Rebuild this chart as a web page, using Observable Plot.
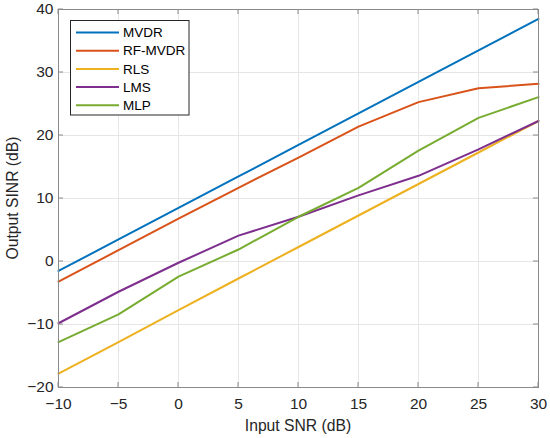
<!DOCTYPE html>
<html>
<head>
<meta charset="utf-8">
<script src="https://cdn.jsdelivr.net/npm/d3@7"></script>
<script src="https://cdn.jsdelivr.net/npm/@observablehq/plot@0.6"></script>
<style>
body { margin: 0; background: #fff; }
#chart svg { display: block; font-family: "Liberation Sans", Arial, sans-serif; }
</style>
</head>
<body>
<div id="chart"></div>
<script>
const inputSNR = [-10, -5, 0, 5, 10, 15, 20, 25, 30];
const seriesNames = ["MVDR", "RF-MVDR", "RLS", "LMS", "MLP"];
const mvdr   = [-1.5, 3.5, 8.5, 13.5, 18.5, 23.5, 28.5, 33.5, 38.5];
const rfmvdr = [-3.2, 1.8, 6.8, 11.7, 16.5, 21.4, 25.3, 27.5, 28.2];
const rls    = [-17.8, -12.8, -7.7, -2.7, 2.3, 7.3, 12.3, 17.3, 22.3];
const lms    = [-9.8, -4.8, -0.2, 4.1, 7.1, 10.5, 13.6, 17.8, 22.3];
const mlp    = [-12.8, -8.4, -2.4, 1.9, 7.1, 11.7, 17.6, 22.8, 26.1];
const seriesValues = [mvdr, rfmvdr, rls, lms, mlp];
const colors = ["#0072BD", "#D95319", "#EDB120", "#7E2F8E", "#77AC30"];
const xTicks = [-10, -5, 0, 5, 10, 15, 20, 25, 30];
const yTicks = [-20, -10, 0, 10, 20, 30, 40];
const xLabel = "Input SNR (dB)";
const yLabel = "Output SINR (dB)";

const data = [];
seriesNames.forEach((name, i) => {
  inputSNR.forEach((x, j) => data.push({series: name, x, y: seriesValues[i][j]}));
});

const W = 550, H = 438;
const chart = Plot.plot({
  width: W, height: H,
  marginLeft: 58, marginRight: 12, marginTop: 9, marginBottom: 51,
  style: {fontFamily: "Liberation Sans, Arial, sans-serif", fontSize: "15.5px", color: "#262626", background: "#fff"},
  x: {domain: [-10, 30], ticks: xTicks},
  y: {domain: [-20, 40], ticks: yTicks},
  color: {domain: seriesNames, range: colors},
  marks: [
    Plot.gridX(xTicks, {stroke: "#e6e6e6", strokeOpacity: 1}),
    Plot.gridY(yTicks, {stroke: "#e6e6e6", strokeOpacity: 1}),
    Plot.axisX(xTicks, {tickSize: 0, tickPadding: 10, label: null, fontSize: 15.5, fill: "#262626"}),
    Plot.axisY(yTicks, {tickSize: 0, tickPadding: 5, label: null, fontSize: 15.5, fill: "#262626"}),
    Plot.line(data, {x: "x", y: "y", z: "series", stroke: "series", strokeWidth: 2}),
    Plot.frame({stroke: "#8a8a8a", strokeWidth: 1})
  ]
});

const svg = d3.select(chart);
const sx = chart.scale("x"), sy = chart.scale("y");
const x0 = sx.apply(-10), x1 = sx.apply(30), y0 = sy.apply(-20), y1 = sy.apply(40);
const tg = svg.append("g").attr("stroke", "#8a8a8a").attr("stroke-width", 1);
xTicks.forEach(v => {
  const px = sx.apply(v);
  tg.append("line").attr("x1", px).attr("x2", px).attr("y1", y0).attr("y2", y0 - 5);
  tg.append("line").attr("x1", px).attr("x2", px).attr("y1", y1).attr("y2", y1 + 5);
});
yTicks.forEach(v => {
  const py = sy.apply(v);
  tg.append("line").attr("y1", py).attr("y2", py).attr("x1", x0).attr("x2", x0 + 5);
  tg.append("line").attr("y1", py).attr("y2", py).attr("x1", x1).attr("x2", x1 - 5);
});

svg.append("text").text(xLabel)
  .attr("x", (x0 + x1) / 2).attr("y", 431)
  .attr("text-anchor", "middle").attr("font-size", 15.7).attr("fill", "#262626");
svg.append("text").text(yLabel)
  .attr("transform", `translate(18,${(y0 + y1) / 2}) rotate(-90)`)
  .attr("text-anchor", "middle").attr("font-size", 15.7).attr("fill", "#262626");

// legend
const lg = svg.append("g").attr("text-anchor", "start");
lg.append("rect").attr("x", 70.5).attr("y", 20.5).attr("width", 118.5).attr("height", 94.5)
  .attr("fill", "#fff").attr("stroke", "#262626").attr("stroke-width", 1);
seriesNames.forEach((name, i) => {
  const yy = 32.5 + i * 18.2;
  lg.append("line").attr("x1", 76).attr("x2", 119).attr("y1", yy).attr("y2", yy)
    .attr("stroke", colors[i]).attr("stroke-width", 2);
  lg.append("text").text(name).attr("x", 123).attr("y", yy).attr("dy", "0.35em")
    .attr("text-anchor", "start").attr("font-size", 13.5).attr("fill", "#000");
});

document.getElementById("chart").appendChild(chart);
</script>
</body>
</html>
